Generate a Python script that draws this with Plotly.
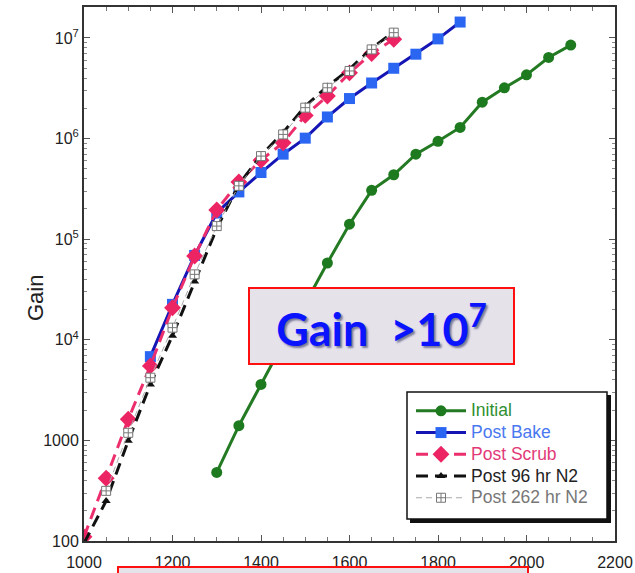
import plotly.graph_objects as go

# ---------------- data ----------------
x_initial = [1300, 1350, 1400, 1450, 1500, 1550, 1600, 1650, 1700, 1750, 1800,
             1850, 1900, 1950, 2000, 2050, 2100]
g_initial = [480, 1400, 3600, 9300, 23000, 58000, 141000, 306000, 437000, 700000,
             940000, 1290000, 2300000, 3200000, 4300000, 6400000, 8500000]

x_bake = [1150, 1200, 1250, 1300, 1350, 1400, 1450, 1500, 1550, 1600, 1650,
          1700, 1750, 1800, 1850]
g_bake = [6800, 22500, 69000, 182000, 295000, 460000, 700000, 1010000, 1640000,
          2500000, 3570000, 5000000, 6900000, 9800000, 14400000]

x_scrub = [1000, 1050, 1100, 1150, 1200, 1250, 1300, 1350, 1400, 1450, 1500,
           1550, 1600, 1650, 1700]
g_scrub = [110, 420, 1620, 5500, 20800, 68000, 195000, 370000, 610000, 910000,
           1700000, 2650000, 4500000, 7000000, 9700000]

x_n96 = [1000, 1050, 1100, 1150, 1200, 1250, 1300, 1350, 1400, 1450, 1500,
         1550, 1600, 1650, 1700]
g_n96 = [95, 250, 990, 3600, 11000, 38000, 128000, 350000, 680000, 1150000,
         2100000, 3300000, 4900000, 7900000, 11500000]

x_n262 = [1050, 1100, 1150, 1200, 1250, 1300, 1350, 1400, 1450, 1500, 1550,
          1600, 1650, 1700]
g_n262 = [315, 1190, 4200, 13200, 44700, 135000, 339000, 670000, 1100000,
          2030000, 3200000, 4700000, 7700000, 11300000]

series_names = ["Initial", "Post Bake", "Post Scrub", "Post 96 hr N2", "Post 262 hr N2"]
y_tickvals = [100, 1000, 1e4, 1e5, 1e6, 1e7]
y_ticktext = ["100", "1000", "10<sup>4</sup>", "10<sup>5</sup>", "10<sup>6</sup>", "10<sup>7</sup>"]
x_tickvals = [1000, 1200, 1400, 1600, 1800, 2000, 2200]

# ---------------- figure ----------------
W, H = 635, 573
ML, MR, MT, MB = 84, 20, 7, 32
PW, PH = W - ML - MR, H - MT - MB


def px(xp):
    return (xp - ML) / PW


def py(yp):
    return (H - MB - yp) / PH


fig = go.Figure()


def lname(text, color):
    return "<span style='color:%s;font-size:17.5px'>%s</span>" % (color, text)


fig.add_trace(go.Scatter(
    x=x_initial, y=g_initial, mode="lines+markers",
    name=lname(series_names[0], "#2f8f2f"),
    line=dict(color="#237a23", width=3),
    marker=dict(symbol="circle", size=11, color="#1e7a1e")))

fig.add_trace(go.Scatter(
    x=x_bake, y=g_bake, mode="lines+markers",
    name=lname(series_names[1], "#4a78f0"),
    line=dict(color="#1515b5", width=3),
    marker=dict(symbol="square", size=11, color="#2a66f2")))

fig.add_trace(go.Scatter(
    x=x_scrub, y=g_scrub, mode="lines+markers",
    name=lname(series_names[2], "#e23a78"),
    line=dict(color="#ec2f6c", width=3, dash="12px,7px"),
    marker=dict(symbol="diamond", size=13, color="#ec2463")))

fig.add_trace(go.Scatter(
    x=x_n96, y=g_n96, mode="lines+markers",
    name=lname(series_names[3], "#222222"),
    line=dict(color="#111111", width=3, dash="12px,7px"),
    marker=dict(symbol="triangle-up", size=8, color="#111111")))

fig.add_trace(go.Scatter(
    x=x_n262, y=g_n262, mode="lines+markers",
    name=lname(series_names[4], "#777777"),
    line=dict(color="#aaaaaa", width=1, dash="6px,4px"),
    marker=dict(symbol="square-cross", size=9, color="white",
                line=dict(color="#777777", width=1))))

minor_y = [k * 10 ** e for e in range(2, 8) for k in range(2, 10)]

fig.update_layout(
    width=W, height=H,
    margin=dict(l=ML, r=MR, t=MT, b=MB),
    paper_bgcolor="white", plot_bgcolor="white",
    font=dict(family="Liberation Sans, Arial, sans-serif", color="#333333", size=16),
    showlegend=True,
    legend=dict(
        x=px(411), y=py(395), xanchor="left", yanchor="top",
        bgcolor="rgba(0,0,0,0)", borderwidth=0,
        font=dict(size=14.4, family="Liberation Sans, Arial, sans-serif"),
        tracegroupgap=0, itemwidth=50,
    ),
    xaxis=dict(
        range=[1000, 2200], tickvals=x_tickvals, automargin=False,
        showline=True, linecolor="#333333", linewidth=2, mirror="allticks",
        ticks="inside", ticklen=6, tickcolor="#555555", showgrid=False, zeroline=False,
        minor=dict(ticks="inside", ticklen=4, dtick=50, tickcolor="#777777", showgrid=False),
        tickfont=dict(size=16, color="#222222"),
        ticklabelstandoff=6,
    ),
    yaxis=dict(
        type="log", range=[2, 7.308], automargin=False,
        tickvals=y_tickvals, ticktext=y_ticktext,
        showline=True, linecolor="#333333", linewidth=2, mirror="allticks",
        ticks="inside", ticklen=6, tickcolor="#555555", showgrid=False, zeroline=False,
        minor=dict(ticks="inside", ticklen=3, tickvals=minor_y, tickcolor="#888888", showgrid=False),
        tickfont=dict(size=16, color="#222222"),
    ),
)

# y-axis title
fig.add_annotation(
    xref="paper", yref="paper", x=px(35), y=py(298), xanchor="center", yanchor="middle",
    text="Gain", textangle=-90, showarrow=False,
    font=dict(size=22, color="#222222", family="Liberation Sans, Arial, sans-serif"),
)

# "Gain >10^7" box
fig.add_annotation(
    xref="paper", yref="paper", x=px(381.5), y=py(326), xanchor="center", yanchor="middle",
    text="<b>Gain  >10<sup>7</sup></b>", showarrow=False,
    font=dict(family="Comic Sans MS, Lato, sans-serif", size=45, color="#0a14ff",
              shadow="2px 2px 2px #7a7a9a"),
    bgcolor="#e6e2ea", bordercolor="#ff1010", borderwidth=2, borderpad=2,
    width=259, height=70,
)

# partial box at the bottom edge
fig.add_shape(type="rect", xref="paper", yref="paper",
              x0=px(118), x1=px(528), y0=py(567), y1=py(590),
              line=dict(color="#ff1010", width=2), fillcolor="#e6e2ea", layer="above")

# legend frame with drop shadow
fig.add_shape(type="rect", xref="paper", yref="paper",
              x0=px(410), x1=px(611), y0=py(523), y1=py(395),
              line=dict(color="#111111", width=0), fillcolor="#111111", layer="above")
fig.add_shape(type="rect", xref="paper", yref="paper",
              x0=px(407), x1=px(607), y0=py(519), y1=py(392),
              line=dict(color="#111111", width=1.5), fillcolor="white", layer="above")

fig.write_html("out.html")
